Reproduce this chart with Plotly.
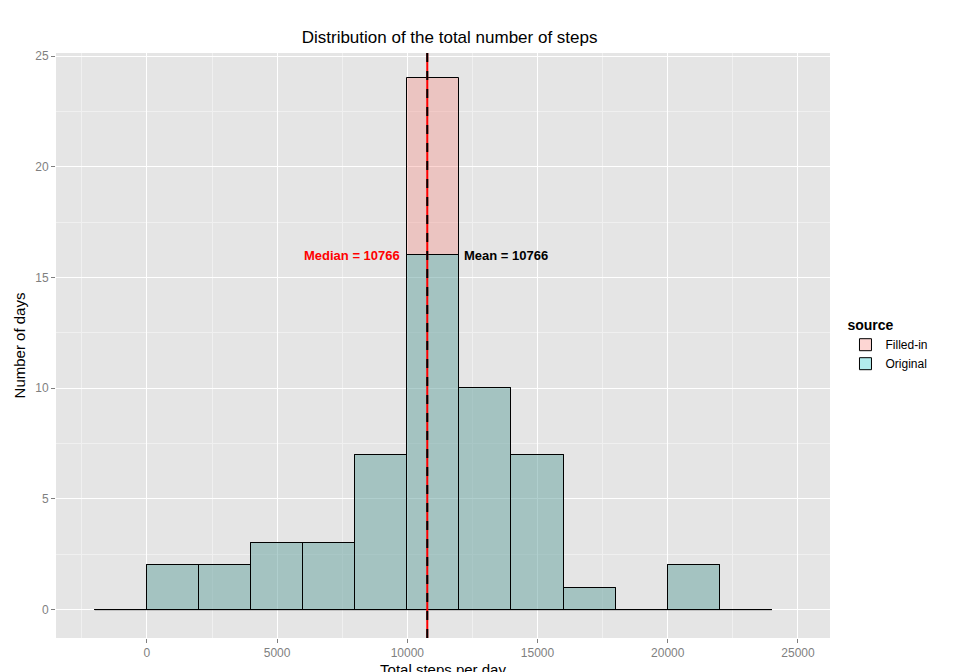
import plotly.graph_objects as go

bin_starts = [-2000, 0, 2000, 4000, 6000, 8000, 10000, 12000, 14000, 16000, 18000, 20000, 22000]
original = [0, 2, 2, 3, 3, 7, 16, 10, 7, 1, 0, 2, 0]
filled_in = [0, 2, 2, 3, 3, 7, 24, 10, 7, 1, 0, 2, 0]
mean_val = 10766
median_val = 10766
width = 2000
centers = [b + width / 2 for b in bin_starts]
x_ticks = [0, 5000, 10000, 15000, 20000, 25000]

fig = go.Figure()
fig.add_bar(x=centers, y=filled_in, width=width, name="Filled-in",
            marker=dict(color="rgba(248,118,109,0.3)", line=dict(color="black", width=1)))
fig.add_bar(x=centers, y=original, width=width, name="Original",
            marker=dict(color="rgba(0,191,196,0.3)", line=dict(color="black", width=1)))
fig.add_scatter(x=[bin_starts[0], bin_starts[-1] + width], y=[0, 0], mode="lines",
                line=dict(color="black", width=1), showlegend=False, hoverinfo="skip")
fig.add_vline(x=median_val, line=dict(color="red", width=2))
fig.add_vline(x=mean_val, line=dict(color="black", width=2, dash="dash"))
fig.add_annotation(x=median_val, y=16, text=f"<b>Median = {median_val}</b>", showarrow=False,
                   xanchor="right", xshift=-25, font=dict(color="red", size=13, family="Arial"))
fig.add_annotation(x=mean_val, y=16, text=f"<b>Mean = {mean_val}</b>", showarrow=False,
                   xanchor="left", xshift=35, font=dict(color="black", size=13, family="Arial"))

grid = "white"
fig.update_layout(
    width=960, height=672, barmode="overlay", bargap=0,
    paper_bgcolor="white", plot_bgcolor="#E5E5E5",
    margin=dict(l=48, r=138, t=45, b=42),
    font=dict(family="Arial", size=12, color="black"),
    title=dict(text="Distribution of the total number of steps", x=0.46, xanchor="center", y=0.965,
               font=dict(size=17)),
    xaxis=dict(range=[-3490, 26230], tickvals=x_ticks, ticktext=[str(v) for v in x_ticks],
               gridcolor=grid, showline=False, zeroline=False, ticks="outside", ticklen=4,
               tickcolor="#7F7F7F", tickfont=dict(color="#7F7F7F"), automargin=False,
               minor=dict(dtick=2500, tick0=0, gridcolor="#F0F0F0", showgrid=True),
               title=dict(text="Total steps per day", font=dict(size=15), standoff=5)),
    yaxis=dict(range=[-1.28, 25.14], tickvals=[0, 5, 10, 15, 20, 25],
               gridcolor=grid, zeroline=False, ticks="outside", ticklen=4,
               tickcolor="#7F7F7F", tickfont=dict(color="#7F7F7F"), automargin=False,
               minor=dict(dtick=2.5, tick0=0, gridcolor="#F0F0F0", showgrid=True),
               title=dict(text="Number of days", font=dict(size=15), standoff=5)),
    legend=dict(title=dict(text="<b>source</b>"), x=1.02, y=0.5, yanchor="middle",
                font=dict(size=12), bgcolor="white"),
)
fig.write_html("out.html")
